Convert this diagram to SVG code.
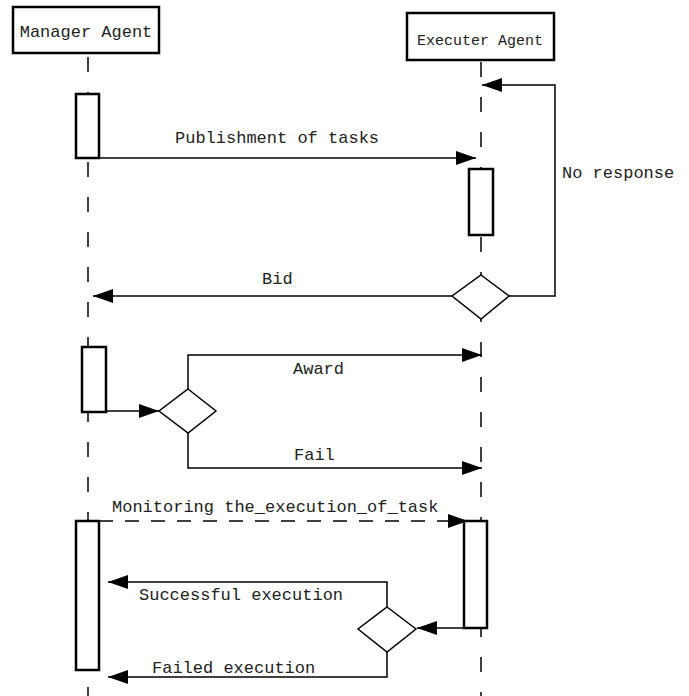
<svg xmlns="http://www.w3.org/2000/svg" width="689" height="696" viewBox="0 0 689 696">
<style>
text{font-family:"Liberation Mono","DejaVu Sans Mono",monospace;fill:#222;font-size:17px}
.hdr{fill:#fff;stroke:#000;stroke-width:2.5}
.act{fill:#fff;stroke:#000;stroke-width:2.5}
.life{stroke:#000;stroke-width:1.5;stroke-dasharray:15 20;fill:none}
.ln{stroke:#000;stroke-width:1.5;fill:none}
.dash{stroke:#000;stroke-width:1.5;fill:none;stroke-dasharray:14 12}
.dia{fill:#fff;stroke:#000;stroke-width:1.5}
</style>
<defs>
<marker id="ah" markerUnits="userSpaceOnUse" markerWidth="20" markerHeight="14" refX="20" refY="7" orient="auto">
<path d="M0,0 L20,7 L0,14 z" fill="#000"/>
</marker>
</defs>
<rect width="689" height="696" fill="#fff"/>
<g id="lifelines">
<line class="life" x1="88" y1="57" x2="88" y2="696"/>
<line class="life" x1="481" y1="62" x2="481" y2="696"/>
</g>
<g id="manager">
<rect class="hdr" x="13" y="7" width="146" height="46"/>
<text x="86" y="37" text-anchor="middle">Manager Agent</text>
</g>
<g id="executer">
<rect class="hdr" x="407" y="13" width="147" height="47"/>
<text x="480" y="45" text-anchor="middle" style="font-size:15px">Executer Agent</text>
</g>
<g id="connectors">
<polyline class="ln" points="99,158 476,158" marker-end="url(#ah)"/>
<polyline class="ln" points="509,296 555,296 555,85 482,85" marker-end="url(#ah)"/>
<polyline class="ln" points="452,296 93,296" marker-end="url(#ah)"/>
<polyline class="ln" points="106,411 159,411" marker-end="url(#ah)"/>
<polyline class="ln" points="188,389 188,355 482,355" marker-end="url(#ah)"/>
<polyline class="ln" points="188,433 188,468 482,468" marker-end="url(#ah)"/>
<polyline class="dash" points="99,521 468,521" marker-end="url(#ah)"/>
<polyline class="ln" points="464,628 417,628" marker-end="url(#ah)"/>
<polyline class="ln" points="387,607 387,582 108,582" marker-end="url(#ah)"/>
<polyline class="ln" points="387,652 387,677 108,677" marker-end="url(#ah)"/>
</g>
<g id="activations">
<rect id="act-m1" class="act" x="76" y="94" width="23" height="64"/>
<rect id="act-e1" class="act" x="469" y="169" width="24" height="66"/>
<rect id="act-m2" class="act" x="82" y="347" width="24" height="65"/>
<rect id="act-e2" class="act" x="464" y="521" width="23" height="107"/>
<rect id="act-m3" class="act" x="76" y="521" width="23" height="149"/>
</g>
<g id="decision1"><polygon class="dia" points="481,275 509,296 481,319 452,296"/></g>
<g id="decision2"><polygon class="dia" points="188,389 216,411 188,433 159,411"/></g>
<g id="decision3"><polygon class="dia" points="387,607 416,629 387,652 358,629"/></g>
<g id="labels">
<text x="175" y="143">Publishment of tasks</text>
<text x="562" y="178">No response</text>
<text x="262" y="284">Bid</text>
<text x="293" y="374">Award</text>
<text x="294" y="460">Fail</text>
<text x="112" y="512">Monitoring the_execution_of_task</text>
<text x="139" y="600">Successful execution</text>
<text x="152" y="673">Failed execution</text>
</g>
</svg>
